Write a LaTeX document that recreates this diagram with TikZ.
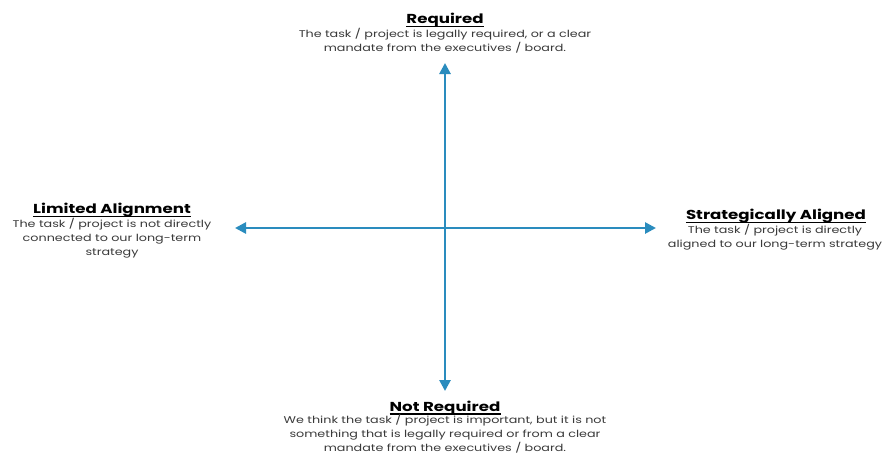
\documentclass[tikz,border=0pt]{standalone}
\usepackage{fontspec}
\setmainfont{Poppins}
\newfontfamily\bodyfont[FakeStretch=1.3]{Poppins}
\newfontfamily\titlefont[FakeStretch=1.28]{Poppins}
\usetikzlibrary{arrows.meta}
\definecolor{axisblue}{HTML}{2A8CBE}
\definecolor{txtgray}{HTML}{3A3A3A}
\tikzset{
  axis/.style={draw=axisblue, line width=2.6pt, {Triangle[length=11pt,width=11pt]}-{Triangle[length=11pt,width=11pt]}},
  ttl/.style={font=\titlefont\fontsize{13}{14}\selectfont\bfseries, text=black, inner sep=0pt, anchor=base},
  uline/.style={draw=black, line width=1.1pt},
  body/.style={font=\bodyfont\fontsize{9.8}{13.6}\selectfont, text=txtgray, align=center, inner sep=0pt, anchor=north}
}
\begin{document}
\begin{tikzpicture}[x=1pt,y=-1pt]
\useasboundingbox[fill=white] (0,0) rectangle (882,452);
\coordinate (top) at (445,63);
\coordinate (bot) at (445,391);
\coordinate (lft) at (235,228);
\coordinate (rgt) at (656,228);
\draw[axis] (top) -- (bot);
\draw[axis] (lft) -- (rgt);
\node[ttl] (reqt) at (445,23.5) {Required};
\draw[uline] ([yshift=-3pt]reqt.base west) -- ([yshift=-3pt]reqt.base east);
\node[body] (reqb) at (445,28.5) {The task / project is legally required, or a clear\\mandate from the executives / board.};
\node[ttl] (limt) at (112,213.5) {Limited Alignment};
\draw[uline] ([yshift=-3pt]limt.base west) -- ([yshift=-3pt]limt.base east);
\node[body] (limb) at (112,218.5) {The task / project is not directly\\connected to our long-term\\strategy};
\node[ttl] (strt) at (776,219.5) {Strategically Aligned};
\draw[uline] ([yshift=-3pt]strt.base west) -- ([yshift=-3pt]strt.base east);
\node[body] (strb) at (775,224.5) {The task / project is directly\\aligned to our long-term strategy};
\node[ttl] (nrt) at (445,411) {Not Required};
\draw[uline] ([yshift=-3pt]nrt.base west) -- ([yshift=-3pt]nrt.base east);
\node[body] (nrb) at (445,414.5) {We think the task / project is important, but it is not\\something that is legally required or from a clear\\mandate from the executives / board.};
\end{tikzpicture}
\end{document}
